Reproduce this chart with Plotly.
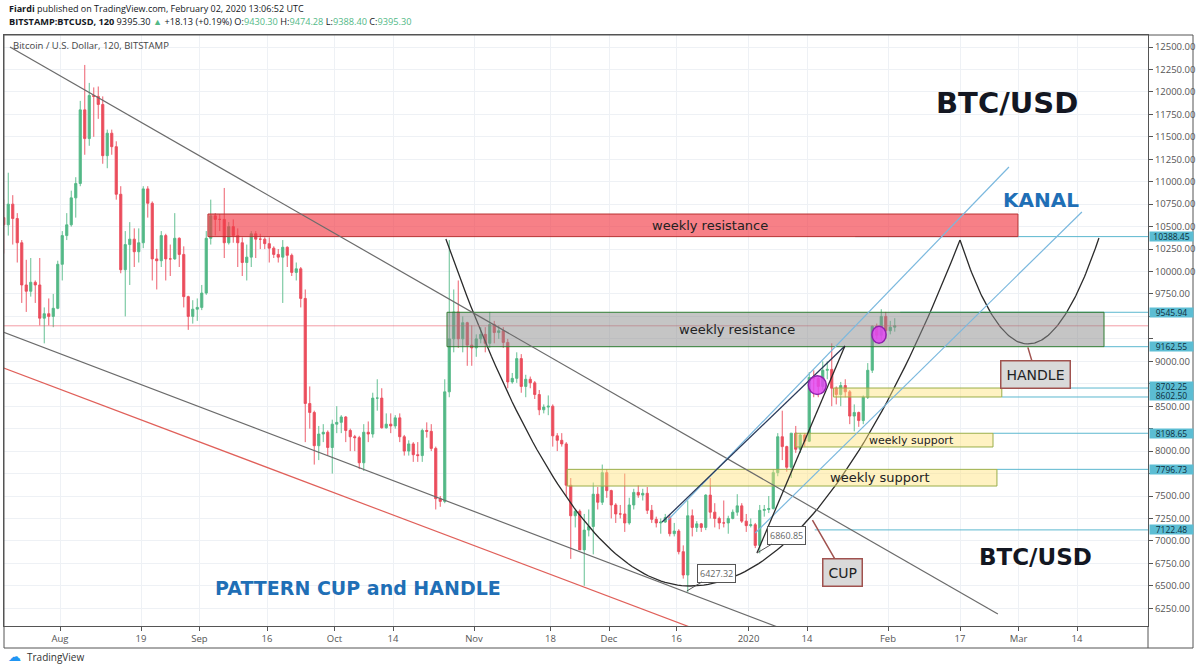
import numpy as np
import pandas as pd
import plotly.graph_objects as go

# ---------------- daily candles ----------------
START = "2019-07-19 12:00"

OPEN = [
    # Jul 19-31
    10600, 10520, 10750, 10590, 10320, 9850, 9780, 9880, 9850, 9480, 9530, 9500, 9590,
    # Aug
    10080, 10400, 10520, 10820, 10980, 11800, 11480, 11960, 11950, 11860, 11290, 11540, 11390, 10860, 10020, 10300,
    10360, 10220, 10320, 10920, 10760, 10140, 10120, 10400, 10140, 10140, 10370, 10190, 9720, 9500, 9580,
    # Sep
    9600, 9760, 10370, 10620, 10580, 10580, 10320, 10500, 10400, 10320, 10100, 10160, 10420, 10360, 10360,
    10310, 10260, 10190, 10160, 10270, 10180, 9990, 10030, 9700, 8530, 8430, 8060, 8190, 8210, 8040,
    # Oct
    8300, 8320, 8380, 8230, 8160, 8150, 7870, 8210, 8190, 8590, 8590, 8260, 8300, 8280, 8370,
    8160, 8000, 8080, 7960, 7950, 8230, 8220, 8030, 7470, 7440, 8660, 9250, 9550, 9250, 9430, 9180,
    # Nov
    9150, 9250, 9300, 9200, 9410, 9320, 9340, 9210, 8770, 8810, 9030, 8720, 8800, 8760, 8630,
    8460, 8490, 8500, 8170, 8120, 8080, 7620, 7280, 7330, 6900, 7120, 7160, 7520, 7430, 7760,
    # Dec
    7560, 7400, 7300, 7300, 7200, 7400, 7540, 7510, 7530, 7340, 7240, 7200, 7210, 7260, 7080,
    7110, 6880, 6620, 7280, 7150, 7190, 7150, 7510, 7320, 7250, 7200, 7200, 7250, 7320, 7390, 7220,
    # Jan
    7170, 7180, 6950, 7340, 7350, 7360, 7760, 8160, 8050, 7820, 8200, 8020, 8180, 8110, 8820,
    8810, 8720, 8900, 8910, 8700, 8630, 8730, 8660, 8390, 8430, 8340, 8600, 8900, 9390, 9290, 9500,
    # Feb 1-2
    9340, 9380,
]
HIGH = [
    10800, 11100, 10850, 10650, 10350, 10130, 10150, 9900, 10150, 9600, 9700, 9750, 10120,
    10450, 10650, 10900, 11050, 11900, 12300, 12100, 12050, 12060, 11950, 11580, 11580, 11450, 10950, 10450, 10550,
    10480, 10480, 10950, 10950, 10780, 10250, 10450, 10420, 10300, 10650, 10380, 10280, 9730, 9680, 9700,
    9850, 10450, 10800, 10650, 10640, 10930, 10550, 10580, 10480, 10380, 10300, 10450, 10450, 10420, 10380,
    10380, 10280, 10250, 10350, 10280, 10200, 10100, 10050, 9800, 8720, 8450, 8280, 8300, 8230, 8350,
    8500, 8400, 8390, 8250, 8180, 8170, 8300, 8330, 8650, 8800, 8700, 8420, 8420, 8400, 8420,
    8180, 8120, 8100, 8100, 8250, 8320, 8300, 8050, 7500, 8800, 10350, 9800, 9900, 9500, 9440, 9400,
    9300, 9380, 9380, 9550, 9450, 9400, 9380, 9250, 8870, 9100, 9080, 8850, 8830, 8780, 8680,
    8520, 8620, 8520, 8200, 8200, 8100, 7700, 7350, 7350, 7300, 7350, 7650, 7600, 7850, 7800,
    7570, 7420, 7400, 7750, 7480, 7580, 7620, 7580, 7600, 7400, 7270, 7250, 7300, 7300, 7200,
    7130, 6950, 7450, 7350, 7220, 7200, 7520, 7700, 7420, 7270, 7450, 7280, 7350, 7520, 7420, 7300,
    7250, 7200, 7400, 7400, 7500, 7800, 8200, 8450, 8060, 8200, 8280, 8200, 8200, 8880, 8900,
    8830, 9000, 9000, 9200, 8720, 8770, 8800, 8680, 8520, 8440, 8620, 8980, 9400, 9420, 9580, 9550,
    9450, 9480,
]
LOW = [
    10200, 10400, 10300, 10100, 9650, 9550, 9720, 9650, 9400, 9200, 9400, 9380, 9580,
    9900, 10350, 10500, 10600, 10950, 11300, 11400, 11500, 11700, 11200, 11150, 11300, 10800, 9980, 9500, 9850,
    10050, 10100, 10260, 10600, 9900, 9800, 10050, 9900, 9950, 10130, 10050, 9600, 9350, 9420, 9450,
    9570, 9740, 10300, 10400, 10450, 10150, 10300, 10320, 10050, 9950, 9900, 10050, 10150, 10250, 10250,
    10100, 10150, 10100, 9650, 10050, 9950, 9900, 9600, 8100, 8250, 7850, 7900, 8100, 7950, 7750,
    8200, 8200, 8100, 8000, 8000, 7800, 7780, 8100, 8150, 8450, 8250, 8250, 8200, 8250, 8100,
    7950, 7950, 7880, 7880, 7880, 8150, 8000, 7350, 7380, 7420, 8600, 9100, 9150, 9100, 8950, 8950,
    9050, 9200, 9100, 9150, 9200, 9250, 9150, 8700, 8750, 8760, 8650, 8600, 8700, 8580, 8400,
    8420, 8400, 8050, 8000, 8050, 7500, 6800, 7150, 6900, 6500, 7050, 6850, 7350, 7400, 7480,
    7250, 7200, 7250, 7100, 7180, 7350, 7480, 7450, 7300, 7200, 7150, 7080, 7200, 7050, 7050,
    6850, 6580, 6427, 7050, 7100, 7100, 7120, 7250, 7150, 7130, 7150, 7080, 7240, 7280, 7200, 7100,
    7150, 6920, 6861, 7270, 7310, 7350, 7720, 7900, 7770, 7700, 7980, 7980, 8050, 8100, 8600,
    8600, 8680, 8800, 8500, 8520, 8500, 8600, 8300, 8220, 8270, 8300, 8580, 8870, 9250, 9220, 9250,
    9300, 9330,
]
CLOSE = [
    10520, 10750, 10590, 10320, 9850, 9780, 9880, 9850, 9480, 9530, 9500, 9590, 10080,
    10400, 10520, 10820, 10980, 11800, 11480, 11960, 11950, 11860, 11290, 11540, 11390, 10860, 10020, 10300, 10360,
    10220, 10320, 10920, 10760, 10140, 10120, 10400, 10140, 10140, 10370, 10190, 9720, 9500, 9580, 9600,
    9760, 10370, 10620, 10580, 10580, 10320, 10500, 10400, 10320, 10100, 10160, 10420, 10360, 10360, 10310,
    10260, 10190, 10160, 10270, 10180, 9990, 10030, 9700, 8530, 8430, 8060, 8190, 8210, 8040, 8300,
    8320, 8380, 8230, 8160, 8150, 7870, 8210, 8190, 8590, 8590, 8260, 8300, 8280, 8370, 8160,
    8000, 8080, 7960, 7950, 8230, 8220, 8030, 7470, 7440, 8660, 9250, 9550, 9250, 9430, 9180, 9150,
    9250, 9300, 9200, 9410, 9320, 9340, 9210, 8770, 8810, 9030, 8720, 8800, 8760, 8630, 8460,
    8490, 8500, 8170, 8120, 8080, 7620, 7280, 7330, 6900, 7120, 7160, 7520, 7430, 7760, 7560,
    7400, 7300, 7300, 7200, 7400, 7540, 7510, 7530, 7340, 7240, 7200, 7210, 7260, 7080, 7110,
    6880, 6620, 7280, 7150, 7190, 7150, 7510, 7320, 7250, 7200, 7200, 7250, 7320, 7390, 7220, 7170,
    7180, 6950, 7340, 7350, 7360, 7760, 8160, 8050, 7820, 8200, 8020, 8180, 8110, 8820, 8810,
    8720, 8900, 8910, 8700, 8630, 8730, 8660, 8390, 8430, 8340, 8600, 8900, 9390, 9290, 9500, 9340,
    9380, 9395.30,
]
LAST_PRICE = 9395.30

# ---------------- axes ----------------
X_RANGE = ["2019-07-19 13:20", "2020-03-29 18:40"]
Y_RANGE = [6052.3, 12633.6]
Y_TICKS = [6250, 6500, 6750, 7000, 7250, 7500, 7750, 8000, 8250, 8500, 8750, 9000, 9250,
           9500, 9750, 10000, 10250, 10500, 10750, 11000, 11250, 11500, 11750, 12000, 12250, 12500]
# tick labels hidden behind the level labels on the axis
Y_HIDDEN = [7750, 8250, 8750, 9250, 9500]
X_TICKVALS = ["2019-08-01", "2019-08-19", "2019-09-01", "2019-09-16", "2019-10-01", "2019-10-14",
              "2019-11-01", "2019-11-18", "2019-12-01", "2019-12-16", "2020-01-01", "2020-01-14",
              "2020-02-01", "2020-02-17", "2020-03-01", "2020-03-14"]
X_TICKTEXT = ["Aug", "19", "Sep", "16", "Oct", "14", "Nov", "18", "Dec", "16", "2020", "14",
              "Feb", "17", "Mar", "14"]

# ---------------- drawings (anchors) ----------------
TREND_TOP = [("2019-07-20 21:00", 12500), ("2020-02-25 10:00", 6186)]
TREND_LOW = [("2019-07-19 08:00", 9326), ("2020-01-07 12:00", 6040)]
TREND_RED = [("2019-07-19 12:00", 8925), ("2019-12-19 00:00", 6040)]
KANAL_UP = [("2019-12-14 02:00", 7233), ("2020-02-27 21:00", 11164)]
KANAL_LOW = [("2020-01-02 12:00", 7088), ("2020-03-15 02:00", 10663)]
WEDGE_A = [("2019-12-12 19:00", 7210), ("2020-01-22 10:00", 9170)]
WEDGE_B = [("2020-01-02 21:00", 6865), ("2020-01-22 10:00", 9170)]
CUP_LEFT = ("2019-10-25 18:00", 10362)
CUP_BOTTOM = ("2019-12-19 00:00", 6498)
CUP_RIGHT = ("2020-02-17 00:00", 10351)
HANDLE_BOTTOM = ("2020-03-03 02:00", 9193)
HANDLE_RIGHT = ("2020-03-18 21:00", 10373)

RES_RED = ("2019-09-02 21:00", "2020-02-29 21:00", 10388.45, 10640)
RES_GREY = ("2019-10-26 00:00", "2020-03-20 00:00", 9162.55, 9545.94)
SUP_BIG = ("2019-11-21 17:00", "2020-02-25 05:00", 7611, 7796.73)
SUP_MID = ("2020-01-11 10:00", "2020-02-24 08:00", 8046, 8198.65)
SUP_SMALL = ("2020-01-19 21:00", "2020-02-26 07:00", 8602.50, 8702.25)

LEVELS = [10388.45, 9545.94, 9162.55, 8702.25, 8602.50, 8198.65, 7796.73, 7122.48]
LEVEL_START = ["2020-01-24 17:00", "2020-02-03 17:00", "2020-03-20 00:00", "2020-02-26 07:00",
               "2020-02-26 07:00", "2020-02-24 08:00", "2020-02-25 05:00", "2020-01-15 17:00"]

CIRCLES = [("2020-01-14 07:00", "2020-01-18 07:00", 8630, 8840),
           ("2020-01-28 10:00", "2020-01-31 14:00", 9200, 9390)]

# ---------------- helpers ----------------
L_PX, R_PX, T_PX, B_PX = 4, 1148, 35, 626
W, H = 1200, 670


def px(x):
    return (x - L_PX) / (R_PX - L_PX)


def py(y):
    return (B_PX - y) / (B_PX - T_PX)


def half_parabola(rim, bottom, n=60):
    t0, p0 = pd.Timestamp(rim[0]), rim[1]
    t1, p1 = pd.Timestamp(bottom[0]), bottom[1]
    s = np.linspace(0, 1, n)
    ts = [t0 + (t1 - t0) * v for v in s]
    ps = p1 + (p0 - p1) * (1 - s) ** 2
    return ts, list(ps)


dates = pd.date_range(START, periods=len(CLOSE), freq="D")

fig = go.Figure()
fig.add_trace(go.Candlestick(
    x=dates, open=OPEN, high=HIGH, low=LOW, close=CLOSE,
    increasing=dict(line=dict(color="#53b987", width=0.9), fillcolor="#53b987"),
    decreasing=dict(line=dict(color="#eb4d5c", width=0.9), fillcolor="#eb4d5c"),
    whiskerwidth=0, showlegend=False, hoverinfo="skip"))

# cup and handle curves
segs = [(CUP_LEFT, CUP_BOTTOM, False), (CUP_RIGHT, CUP_BOTTOM, True),
        (CUP_RIGHT, HANDLE_BOTTOM, False), (HANDLE_RIGHT, HANDLE_BOTTOM, True)]
for rim, bot, rev in segs:
    ts, ps = half_parabola(rim, bot)
    if rev:
        ts, ps = ts[::-1], ps[::-1]
    fig.add_trace(go.Scatter(x=ts, y=ps, mode="lines", line=dict(color="#2b2b2b", width=1.3),
                             showlegend=False, hoverinfo="skip"))

shapes = []


def seg_line(pts, color, width=1.2):
    shapes.append(dict(type="line", xref="x", yref="y", x0=pts[0][0], y0=pts[0][1],
                       x1=pts[1][0], y1=pts[1][1], line=dict(color=color, width=width),
                       layer="above"))


def box(b, fill, border):
    shapes.append(dict(type="rect", xref="x", yref="y", x0=b[0], x1=b[1], y0=b[2], y1=b[3],
                       fillcolor=fill, line=dict(color=border, width=1), layer="above"))


# last price line
shapes.append(dict(type="line", xref="paper", yref="y", x0=0, x1=1, y0=LAST_PRICE, y1=LAST_PRICE,
                   line=dict(color="rgba(235,77,92,0.55)", width=1), layer="above"))

# levels to the axis
for lv, st in zip(LEVELS, LEVEL_START):
    shapes.append(dict(type="line", xref="x", yref="y", x0=st, x1=X_RANGE[1], y0=lv, y1=lv,
                       line=dict(color="#5cb8cf", width=1), layer="above"))

box(RES_RED, "rgba(242,60,70,0.65)", "#b83232")
box(RES_GREY, "rgba(140,140,140,0.5)", "#2e7d32")
box(SUP_BIG, "rgba(255,226,120,0.45)", "#9aae4a")
box(SUP_MID, "rgba(255,226,120,0.45)", "#9aae4a")
box(SUP_SMALL, "rgba(255,226,120,0.45)", "#9aae4a")

seg_line(TREND_TOP, "#6b6b6b")
seg_line(TREND_LOW, "#6b6b6b")
seg_line(TREND_RED, "#e0605a")
seg_line(KANAL_UP, "#7ab8de")
seg_line(KANAL_LOW, "#7ab8de")
seg_line(WEDGE_A, "#2a3a5a", 1.3)
seg_line(WEDGE_B, "#2b2b2b", 1.3)

for c in CIRCLES:
    shapes.append(dict(type="circle", xref="x", yref="y", x0=c[0], x1=c[1], y0=c[2], y1=c[3],
                       fillcolor="rgba(226,70,240,0.85)", line=dict(color="#8e24aa", width=1.5),
                       layer="above"))

# frame
shapes.append(dict(type="rect", xref="paper", yref="paper", x0=0, x1=px(1193), y0=py(648), y1=1,
                   line=dict(color="#555555", width=1)))
shapes.append(dict(type="line", xref="paper", yref="paper", x0=1, x1=1, y0=py(648), y1=0,
                   line=dict(color="#555555", width=1)))

ann = []
DRAW_FONT = "DejaVu Sans"
UI_FONT = "Open Sans"


def text(x, y, s, size, color="#222222", bold=False, family=DRAW_FONT):
    ann.append(dict(x=x, y=y, xref="x", yref="y", text=f"<b>{s}</b>" if bold else s,
                    showarrow=False, font=dict(size=size, color=color, family=family),
                    xanchor="center", yanchor="middle"))


text("2019-12-23 10:00", 10515, "weekly resistance", 13)
text("2019-12-29 10:00", 9354, "weekly resistance", 13)
text("2020-01-30 05:00", 7704, "weekly support", 13)
text("2020-02-06 07:00", 8122, "weekly support", 11)
text("2020-02-27 10:00", 11876, "BTC/USD", 29, "#131722", True)
text("2020-03-06 00:00", 10796, "KANAL", 20, "#1f6fb6", True)
text("2020-03-04 17:00", 6821, "BTC/USD", 23, "#131722", True)
text("2019-10-06 05:00", 6476, "PATTERN CUP and HANDLE", 19, "#1f6fb6", True)

# callouts
ann.append(dict(x="2020-03-03 02:00", y=9155, xref="x", yref="y", text="HANDLE",
                showarrow=True, arrowhead=0, arrowwidth=1.5, arrowcolor="#a0524f", ax=8, ay=27,
                font=dict(size=14, color="#222222", family=DRAW_FONT), bgcolor="#d9d9d9",
                bordercolor="#a0524f", borderwidth=1.5, borderpad=5))
ann.append(dict(x="2020-01-15 05:00", y=7230, xref="x", yref="y", text="CUP",
                showarrow=True, arrowhead=0, arrowwidth=1.5, arrowcolor="#a0524f", ax=30, ay=52,
                font=dict(size=14, color="#222222", family=DRAW_FONT), bgcolor="#d9d9d9",
                bordercolor="#a0524f", borderwidth=1.5, borderpad=5))
ann.append(dict(x="2019-12-18 07:00", y=6442, xref="x", yref="y", text="6427.32",
                showarrow=True, arrowhead=0, arrowwidth=1, arrowcolor="#555555", ax=30, ay=-18,
                font=dict(size=9, color="#666666", family=UI_FONT), bgcolor="white",
                bordercolor="#555555", borderwidth=1, borderpad=2))
ann.append(dict(x="2020-01-02 21:00", y=6865, xref="x", yref="y", text="6860.85",
                showarrow=True, arrowhead=0, arrowwidth=1, arrowcolor="#555555", ax=30, ay=-18,
                font=dict(size=9, color="#666666", family=UI_FONT), bgcolor="white",
                bordercolor="#555555", borderwidth=1, borderpad=2))

# axis level labels (the two close ones are nudged apart as on the chart)
LEVEL_SHIFT = {8702.25: 2, 8602.50: 1}
for lv in LEVELS:
    ann.append(dict(x=1, y=lv, xref="paper", yref="y", text=f"{lv:.2f}", showarrow=False,
                    xanchor="left", yanchor="middle", xshift=1, yshift=LEVEL_SHIFT.get(lv, 0),
                    width=43, height=9, borderpad=0,
                    bgcolor="#5cbdd3", font=dict(size=8.5, color="#0d2f3d", family=UI_FONT)))

# header / titles
ann.append(dict(x=px(7), y=py(9), xref="paper", yref="paper", xanchor="left", yanchor="middle",
                showarrow=False, font=dict(size=9, color="#131722", family=UI_FONT),
                text="<b>Fiardi</b> published on TradingView.com, February 02, 2020 13:06:52 UTC"))
G = "#53b987"
ann.append(dict(x=px(7), y=py(22), xref="paper", yref="paper", xanchor="left", yanchor="middle",
                showarrow=False, font=dict(size=9.2, color="#131722", family=UI_FONT),
                text=(f"<b>BITSTAMP:BTCUSD, 120</b> 9395.30 <span style='color:{G}'>▲</span> +18.13 (+0.19%) "
                      f"O:<span style='color:{G}'>9430.30</span> H:<span style='color:{G}'>9474.28</span> "
                      f"L:<span style='color:{G}'>9388.40</span> C:<span style='color:{G}'>9395.30</span>")))
ann.append(dict(x=px(11), y=py(45), xref="paper", yref="paper", xanchor="left", yanchor="middle",
                showarrow=False, font=dict(size=9.5, color="#444444", family=UI_FONT),
                text="Bitcoin / U.S. Dollar, 120, BITSTAMP"))
ann.append(dict(x=px(6), y=py(657), xref="paper", yref="paper", xanchor="left", yanchor="middle",
                showarrow=False, font=dict(size=13, color="#2196f3", family="DejaVu Sans"),
                text="☁"))
ann.append(dict(x=px(25), y=py(657), xref="paper", yref="paper", xanchor="left", yanchor="middle",
                showarrow=False, font=dict(size=10, color="#333333", family=UI_FONT),
                text="TradingView"))

y_ticktext = ["" if v in Y_HIDDEN else f"{v:.2f}" for v in Y_TICKS]

fig.update_layout(
    width=W, height=H,
    margin=dict(l=L_PX, r=W - R_PX, t=T_PX, b=H - B_PX),
    paper_bgcolor="white", plot_bgcolor="white",
    shapes=shapes, annotations=ann, showlegend=False,
    xaxis=dict(type="date", range=X_RANGE, rangeslider=dict(visible=False),
               tickvals=X_TICKVALS, ticktext=X_TICKTEXT, showgrid=True, gridcolor="#eef1f5",
               ticks="outside", ticklen=4, tickcolor="#555555", showline=True, linecolor="#555555",
               mirror=True, zeroline=False,
               tickfont=dict(size=9.5, color="#555555", family=UI_FONT)),
    yaxis=dict(side="right", range=Y_RANGE, tickvals=Y_TICKS, ticktext=y_ticktext, showgrid=True,
               gridcolor="#eef1f5", ticks="outside", ticklen=4, tickcolor="#555555",
               showline=True, linecolor="#555555", mirror=True, zeroline=False,
               tickfont=dict(size=9.5, color="#555555", family=UI_FONT)),
)

fig.write_html("out.html", config={"displayModeBar": False},
               post_script="document.body.style.margin='0';document.body.style.overflow='hidden';")
